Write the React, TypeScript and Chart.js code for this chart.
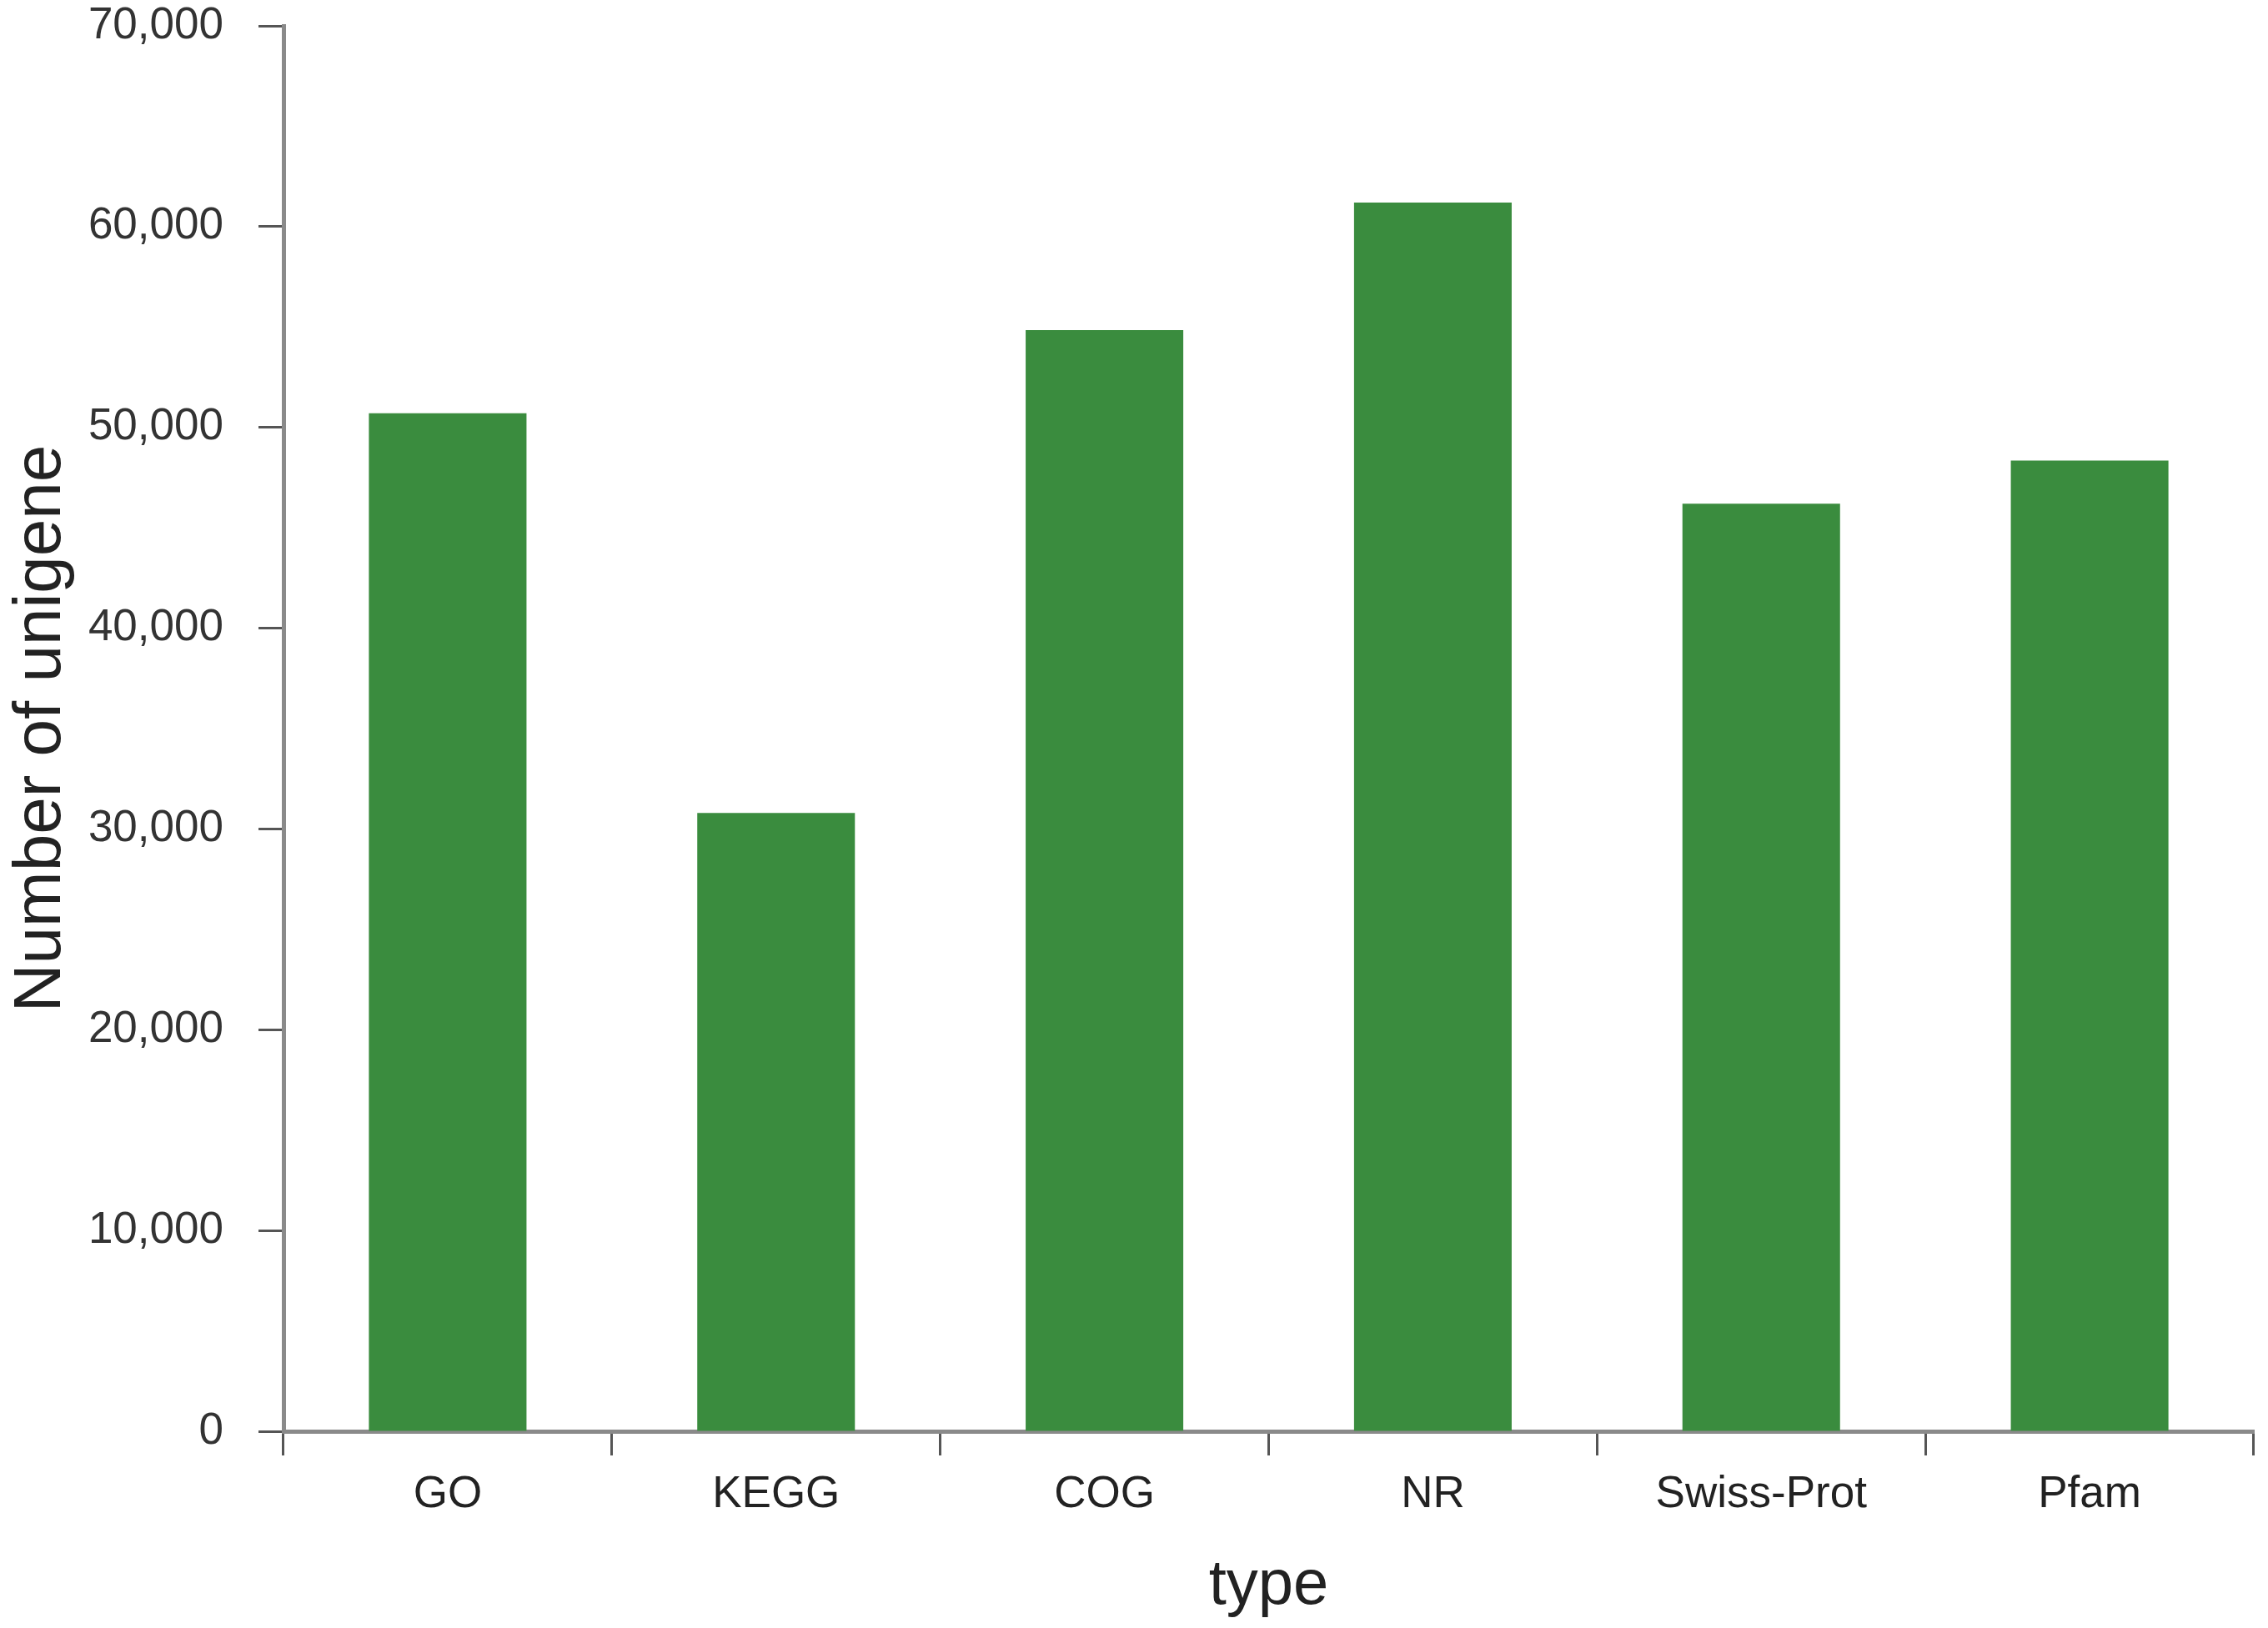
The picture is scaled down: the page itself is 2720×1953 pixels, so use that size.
import React, { useEffect, useRef } from "react";
import { Chart, registerables } from "chart.js";

Chart.register(...registerables);

const categories = ["GO", "KEGG", "COG", "NR", "Swiss-Prot", "Pfam"];
const unigeneCounts = [50700, 30800, 54850, 61200, 46200, 48350];
const yTickValues = [0, 10000, 20000, 30000, 40000, 50000, 60000, 70000];

export default function App() {
  const canvasRef = useRef<HTMLCanvasElement | null>(null);

  useEffect(() => {
    document.body.style.margin = "0";
    const canvas = canvasRef.current;
    if (!canvas) return;
    const axisColor = "#8a8a8a";
    const chart = new Chart(canvas, {
      type: "bar",
      data: {
        labels: categories,
        datasets: [
          {
            data: unigeneCounts,
            backgroundColor: "#3a8c3e",
            borderWidth: 0,
            categoryPercentage: 1,
            barPercentage: 0.48,
          },
        ],
      },
      options: {
        animation: false,
        responsive: false,
        maintainAspectRatio: false,
        layout: { padding: { left: 0, right: 17, top: 0, bottom: 0 } },
        plugins: { legend: { display: false }, tooltip: { enabled: false } },
        scales: {
          x: {
            type: "category",
            offset: true,
            grid: {
              offset: true,
              drawOnChartArea: false,
              drawTicks: true,
              tickLength: 29,
              tickWidth: 3,
              tickColor: "#555",
            },
            border: { display: true, color: axisColor, width: 5 },
            ticks: {
              color: "#222",
              padding: 16,
              font: { family: "'Liberation Sans', Arial, sans-serif", size: 53 },
            },
            title: {
              display: true,
              text: "type",
              color: "#222",
              font: { family: "'Liberation Sans', Arial, sans-serif", size: 76 },
              padding: { top: 0, bottom: 4 },
            },
            afterFit: (scale: any) => {
              scale.height = 236;
            },
          },
          y: {
            min: 0,
            max: 70000,
            afterBuildTicks: (scale: any) => {
              scale.ticks = yTickValues.map((v) => ({ value: v }));
            },
            grid: {
              drawOnChartArea: false,
              drawTicks: true,
              tickLength: 30,
              tickWidth: 3,
              tickColor: "#555",
            },
            border: { display: true, color: axisColor, width: 5 },
            ticks: {
              color: "#333",
              padding: 42,
              font: { family: "'Liberation Sans', Arial, sans-serif", size: 53 },
              callback: (v: any) => Number(v).toLocaleString("en-US"),
            },
            title: {
              display: true,
              text: "Number of unigene",
              color: "#222",
              font: { family: "'Liberation Sans', Arial, sans-serif", size: 80 },
              padding: { top: 2, bottom: 0 },
            },
            afterFit: (scale: any) => {
              scale.width = 340;
              scale.paddingTop = 31;
              scale.paddingBottom = 0;
            },
          },
        },
      },
    });
    return () => chart.destroy();
  }, []);

  return (
    <div style={{ position: "fixed", left: 0, top: 0, width: 2720, height: 1953, background: "#fff" }}>
      <canvas ref={canvasRef} width={2720} height={1953} style={{ width: 2720, height: 1953, display: "block" }} />
    </div>
  );
}
